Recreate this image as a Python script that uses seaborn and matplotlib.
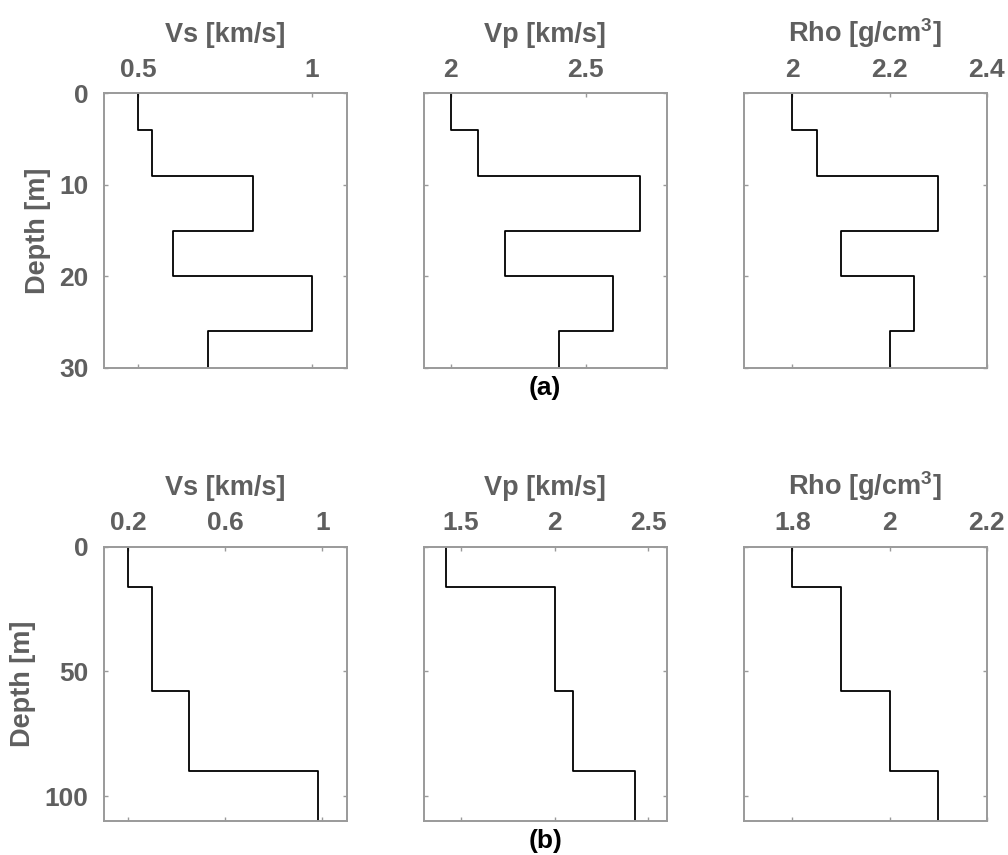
import numpy as np
import pandas as pd
import matplotlib
matplotlib.use("Agg")
import matplotlib.pyplot as plt
import seaborn as sns

# Layered model (a): layer boundaries [m] and properties
depth_a = [0, 4, 9, 15, 20, 26, 30]
vs_a = [0.5, 0.54, 0.83, 0.6, 1.0, 0.7]
vp_a = [2.0, 2.1, 2.7, 2.2, 2.6, 2.4]
rho_a = [2.0, 2.05, 2.3, 2.1, 2.25, 2.2]

# Layered model (b)
depth_b = [0, 16, 58, 90, 110]
vs_b = [0.2, 0.3, 0.45, 0.98]
vp_b = [1.42, 2.0, 2.1, 2.43]
rho_b = [1.8, 1.9, 2.0, 2.1]

titles = ["Vs [km/s]", "Vp [km/s]", r"Rho [g/cm$^\mathrm{3}$]"]

xticks_a = [[0.5, 1.0], [2.0, 2.5], [2.0, 2.2, 2.4]]
xticklabels_a = [["0.5", "1"], ["2", "2.5"], ["2", "2.2", "2.4"]]
xlims_a = [(0.4, 1.1), (1.9, 2.8), (1.9, 2.4)]
yticks_a = [0, 10, 20, 30]

xticks_b = [[0.2, 0.6, 1.0], [1.5, 2.0, 2.5], [1.8, 2.0, 2.2]]
xticklabels_b = [["0.2", "0.6", "1"], ["1.5", "2", "2.5"], ["1.8", "2", "2.2"]]
xlims_b = [(0.1, 1.1), (1.3, 2.6), (1.7, 2.2)]
yticks_b = [0, 50, 100]

TEXT = "#5f5f5f"
SPINE = "#9a9a9a"
LABEL_SIZE = 19.5
TICK_SIZE = 19

sns.set_style("white")
plt.rcParams["font.family"] = ["Liberation Sans", "DejaVu Sans"]
plt.rcParams["font.weight"] = "bold"
plt.rcParams["mathtext.fontset"] = "custom"
plt.rcParams["mathtext.rm"] = "Liberation Sans:bold"
plt.rcParams["mathtext.bf"] = "Liberation Sans:bold"
plt.rcParams["mathtext.it"] = "Liberation Sans:bold:italic"


def profile(bounds, values):
    """Turn layer boundaries and values into a stepped depth profile."""
    xs, ys = [], []
    for i, v in enumerate(values):
        xs += [v, v]
        ys += [bounds[i], bounds[i + 1]]
    return pd.DataFrame({"value": xs, "depth": ys})


fig = plt.figure(figsize=(10.08, 8.55), dpi=100)

lefts = [0.1029, 0.4203, 0.7378]
width = 0.2411
rows = [
    (0.5699, depth_a, [vs_a, vp_a, rho_a], xticks_a, xticklabels_a, xlims_a, yticks_a, "(a)"),
    (0.0398, depth_b, [vs_b, vp_b, rho_b], xticks_b, xticklabels_b, xlims_b, yticks_b, "(b)"),
]

for bottom, bounds, series, xt, xtl, xl, yt, tag in rows:
    height = 0.3209
    for j in range(3):
        ax = fig.add_axes([lefts[j], bottom, width, height])
        df = profile(bounds, series[j])
        sns.lineplot(data=df, x="value", y="depth", sort=False, estimator=None,
                     color="black", linewidth=1.3, ax=ax)
        ax.set_xlim(*xl[j])
        ax.set_ylim(bounds[-1], bounds[0])
        ax.set_xticks(xt[j])
        ax.set_xticklabels(xtl[j])
        ax.set_yticks(yt)
        ax.xaxis.set_label_position("top")
        ax.set_xlabel(titles[j], fontsize=LABEL_SIZE, color=TEXT, fontweight="bold", labelpad=12)
        if j == 0:
            ax.set_ylabel("Depth [m]", fontsize=LABEL_SIZE, color=TEXT, fontweight="bold", labelpad=6)
        else:
            ax.set_ylabel("")
            ax.set_yticklabels([])
        ax.tick_params(axis="x", which="both", direction="in", length=3, width=1,
                       color=SPINE, top=True, bottom=True, labeltop=True,
                       labelbottom=False, labelsize=TICK_SIZE, labelcolor=TEXT, pad=8)
        ax.tick_params(axis="y", which="both", direction="in", length=3, width=1,
                       color=SPINE, left=True, right=True, labelleft=(j == 0),
                       labelsize=TICK_SIZE, labelcolor=TEXT, pad=11)
        for lab in ax.get_xticklabels() + ax.get_yticklabels():
            lab.set_fontweight("bold")
        for s in ax.spines.values():
            s.set_visible(True)
            s.set_color(SPINE)
            s.set_linewidth(1.4)
        ax.grid(False)
        if j == 1:
            ax.text(0.5, -0.03, tag, transform=ax.transAxes, ha="center", va="top",
                    fontsize=TICK_SIZE, fontweight="bold", color="black")

fig.savefig("out.png", dpi=100)
